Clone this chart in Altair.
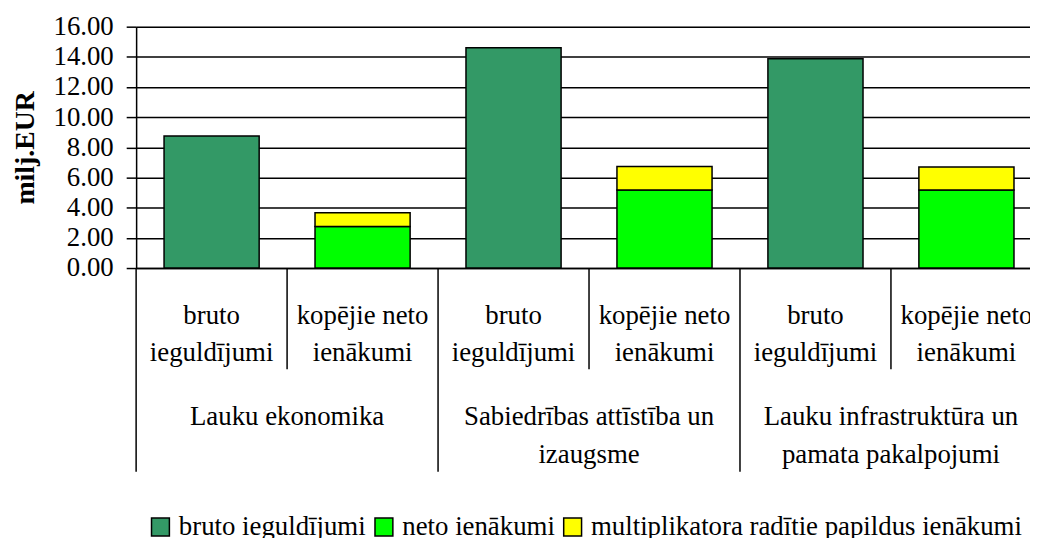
import altair as alt
import pandas as pd

# ---- data ----
groups = ["Lauku ekonomika",
          "Sabiedrības attīstība un\nizaugsme",
          "Lauku infrastruktūra un\npamata pakalpojumi"]
sub_labels = ["bruto\nieguldījumi", "kopējie neto\nienākumi"]
series = ["bruto ieguldījumi", "neto ienākumi", "multiplikatora radītie papildus ienākumi"]
colors = ["#339966", "#00FF00", "#FFFF00"]
bruto = [8.75, 14.61, 13.87]
neto = [2.75, 5.18, 5.17]
mult = [0.92, 1.55, 1.53]
y_ticks = [0, 2, 4, 6, 8, 10, 12, 14, 16]

FONT = "Liberation Serif"
FS = 27

slots = []
bar_rows, sub_rows, grp_rows, div_rows = [], [], [], []
for gi, g in enumerate(groups):
    s0 = f"s{gi}a"
    s1 = f"s{gi}b"
    slots += [s0, s1]
    bar_rows.append({"slot": s0, "series": series[0], "value": bruto[gi], "ord": 0})
    bar_rows.append({"slot": s1, "series": series[1], "value": neto[gi], "ord": 1})
    bar_rows.append({"slot": s1, "series": series[2], "value": mult[gi], "ord": 2})
    sub_rows.append({"slot": s0, "label": sub_labels[0]})
    sub_rows.append({"slot": s1, "label": sub_labels[1]})
    grp_rows.append({"slot": s0, "label": g})
    div_rows.append({"slot": s0, "kind": "group"})
    div_rows.append({"slot": s1, "kind": "sub"})

bars_df = pd.DataFrame(bar_rows)
sub_df = pd.DataFrame(sub_rows)
grp_df = pd.DataFrame(grp_rows)
div_df = pd.DataFrame(div_rows)

xscale = alt.Scale(domain=slots, range=[0, 912], paddingInner=0, paddingOuter=0)

def X(band=0.5):
    return alt.X("slot:N", scale=xscale, sort=slots, bandPosition=band,
                 axis=alt.Axis(labels=False, ticks=False, title=None, grid=False,
                               domain=True, domainColor="black", domainWidth=1.5))

bars = alt.Chart(bars_df).mark_bar(
    width=alt.RelativeBandSize(0.63), stroke="black", strokeWidth=1.5
).encode(
    x=X(),
    y=alt.Y("value:Q", stack="zero",
            scale=alt.Scale(domain=[0, 16], nice=False),
            axis=alt.Axis(values=y_ticks, format=".2f", tickSize=10, tickColor="black",
                          tickWidth=1.5, gridColor="black", gridWidth=1.5,
                          domainColor="black", domainWidth=1.5,
                          labelFont=FONT, labelFontSize=FS, labelColor="black",
                          labelPadding=13,
                          title="milj.EUR", titleFont=FONT, titleFontSize=28,
                          titleFontWeight="bold", titleColor="black", titlePadding=14)),
    color=alt.Color("series:N", scale=alt.Scale(domain=series, range=colors),
                    legend=alt.Legend(title=None, orient="none", legendX=11, legendY=490,
                                      direction="horizontal", symbolType="square",
                                      symbolSize=324, symbolStrokeColor="black",
                                      symbolStrokeWidth=1.5, labelFont=FONT,
                                      labelFontSize=FS, labelColor="black",
                                      labelOffset=5, columnPadding=4, labelLimit=1000,
                                      padding=0)),
    order=alt.Order("ord:Q"),
)

sub_div = alt.Chart(div_df).transform_filter("datum.kind == 'sub'").mark_rule(
    color="black", strokeWidth=1.5
).encode(x=X(0), y=alt.value(243), y2=alt.value(345))

grp_div = alt.Chart(div_df).transform_filter("datum.kind == 'group'").mark_rule(
    color="black", strokeWidth=1.5
).encode(x=X(0), y=alt.value(243), y2=alt.value(448))

sub_text = alt.Chart(sub_df).mark_text(
    font=FONT, fontSize=FS, color="black", lineBreak="\n", lineHeight=38,
    align="center", baseline="alphabetic"
).encode(x=X(0.5), y=alt.value(299), text="label:N")

grp_text = alt.Chart(grp_df).mark_text(
    font=FONT, fontSize=FS, color="black", lineBreak="\n", lineHeight=38,
    align="center", baseline="alphabetic"
).encode(x=X(1), y=alt.value(401), text="label:N")

chart = alt.layer(bars, sub_div, grp_div, sub_text, grp_text).properties(
    width=900, height=243,
    autosize=alt.AutoSizeParams(type="none"),
    padding={"left": 129, "top": 17, "right": 0, "bottom": 270},
).configure_view(stroke=None).configure(background="white")

chart.save("out.html", embed_options={"renderer": "svg", "actions": False})
